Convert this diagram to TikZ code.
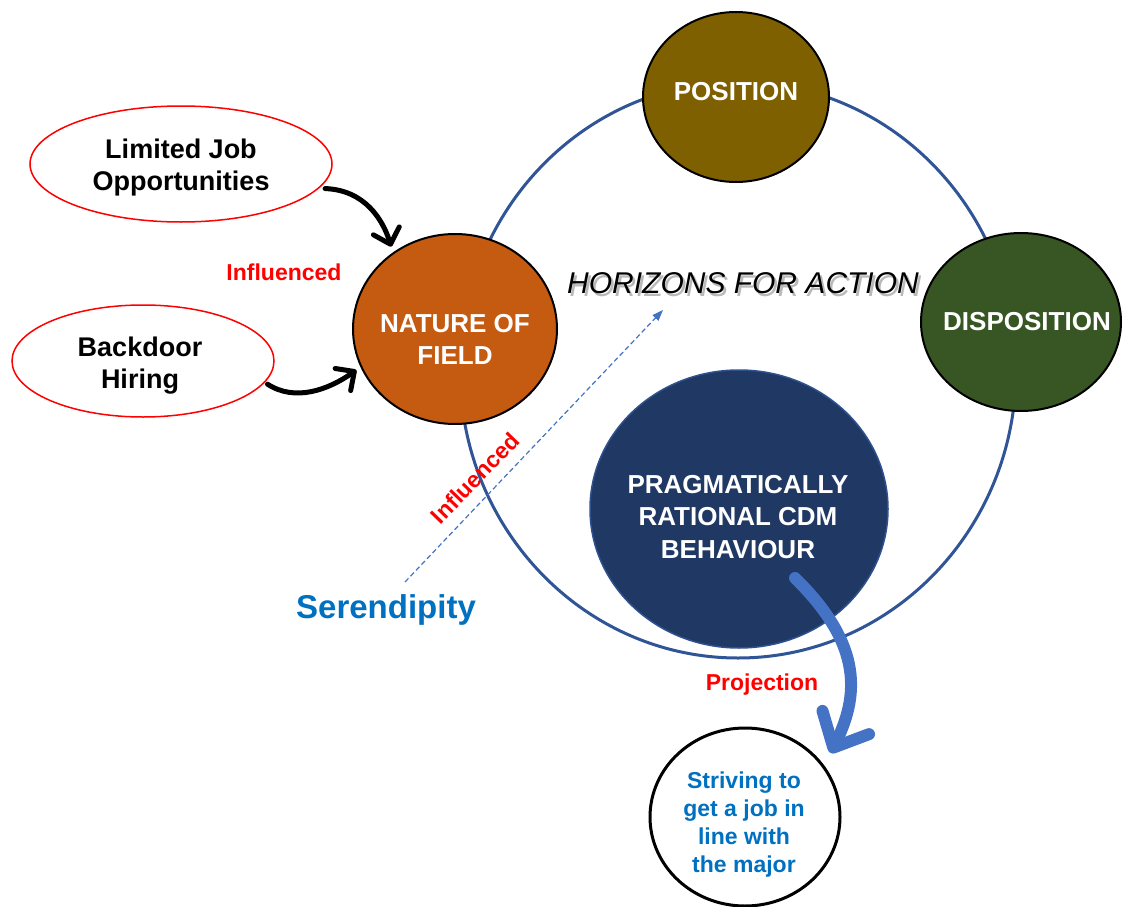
\documentclass[tikz,border=0pt]{standalone}
\usepackage{fontspec}
\setmainfont{Liberation Sans}
\usetikzlibrary{arrows.meta,shapes.geometric}

\definecolor{ringblue}{HTML}{2F5597}
\definecolor{posfill}{HTML}{7F6000}
\definecolor{dispfill}{HTML}{375623}
\definecolor{natfill}{HTML}{C55A11}
\definecolor{pragfill}{HTML}{203864}
\definecolor{pragedge}{HTML}{2F528F}
\definecolor{arrowblue}{HTML}{4472C4}
\definecolor{txtblue}{HTML}{0070C0}

\begin{document}
\begin{tikzpicture}[x=1pt,y=-1pt,
  blob/.style={ellipse, draw=black, line width=2pt, inner sep=0pt},
  factor/.style={ellipse, draw=red, line width=1.5pt, fill=white, inner sep=0pt},
  wtxt/.style={text=white, font=\bfseries\fontsize{26}{32}\selectfont, align=center, inner sep=0pt},
  btxt/.style={font=\bfseries\fontsize{27}{32}\selectfont, align=center, inner sep=0pt},
  redlbl/.style={text=red, font=\bfseries\fontsize{23}{28}\selectfont, inner sep=0pt},
  hztxt/.style={font=\itshape\fontsize{30}{36}\selectfont, inner sep=0pt},
  curvedarrow/.style={line width=5pt, line cap=round,
    -{Straight Barb[length=14pt,width=27pt,round]}},
]
\useasboundingbox (0,0) rectangle (1125,907);

% horizon ring
\draw[ringblue, line width=3pt] (738,370) ellipse [x radius=278pt, y radius=288pt];

% main shapes
\node[blob, fill=posfill, minimum width=186pt, minimum height=170pt] (pos) at (736,97) {};
\node[blob, fill=dispfill, minimum width=200pt, minimum height=178pt] (disp) at (1021,322) {};
\node[blob, fill=natfill, minimum width=204pt, minimum height=190pt] (nof) at (455,329) {};
\node[ellipse, fill=pragfill, draw=pragedge, line width=1.5pt, inner sep=0pt,
      minimum width=298pt, minimum height=278pt] (prag) at (739,509) {};
\node[blob, fill=white, line width=3pt, minimum width=190pt, minimum height=178pt] (striv) at (745,817) {};
\node[factor, minimum width=302pt, minimum height=116pt] (lim) at (181,164) {};
\node[factor, minimum width=262pt, minimum height=112pt] (bd) at (143,361) {};

% texts
\node[wtxt] (posT) at (736,92) {POSITION};
\node[wtxt] (dispT) at (1027,322) {DISPOSITION};
\node[wtxt] (nofT) at (455,339) {NATURE OF\\FIELD};
\node[wtxt, font=\bfseries\fontsize{26}{32.5}\selectfont] (pragT) at (738,517) {PRAGMATICALLY\\RATIONAL CDM\\BEHAVIOUR};
\node[text=txtblue, font=\bfseries\fontsize{23}{28}\selectfont, align=center, inner sep=0pt] (strivT) at (744,825)
  {Striving to\\get a job in\\line with\\the major};
\node[btxt] (limT) at (181,168) {Limited Job\\Opportunities};
\node[btxt] (bdT) at (140,366) {Backdoor\\Hiring};

% influences on the field
\draw[curvedarrow, shorten <=6pt, shorten >=6pt] (lim.-10) .. controls (365,190) and (383,220) .. (nof.129);
\draw[curvedarrow, shorten <=3pt, shorten >=5pt] (bd.-10) .. controls (295,402) and (328,390) .. (nof.202);

% serendipity
\coordinate (serTail) at (405,582);
\coordinate (serHead) at (663,310);
\draw[arrowblue, line width=1.2pt, dash pattern=on 5pt off 3pt,
      -{Triangle[length=11pt,width=8pt]}] (serTail) -- (serHead);

% labels
\node[hztxt, text=black!50, opacity=0.55] (hzS) at (745.5,286) {HORIZONS FOR ACTION};
\node[hztxt] (hz) at (743,283) {HORIZONS FOR ACTION};
\node[redlbl] (inflA) at (284,272) {Influenced};
\node[redlbl, rotate=46] (inflB) at (475,478) {Influenced};
\node[redlbl] (projL) at (762,685) {Projection};
\node[text=txtblue, font=\bfseries\fontsize{33}{40}\selectfont, inner sep=0pt] (seren) at (386,610) {Serendipity};

% projection arrow
\coordinate (projS) at (795,578);
\draw[arrowblue, line width=12pt, line cap=round,
      -{Straight Barb[length=28pt,width=52pt,round]}, shorten >=14pt]
  (projS) .. controls (858,640) and (862,690) .. (striv.33);
\end{tikzpicture}
\end{document}
